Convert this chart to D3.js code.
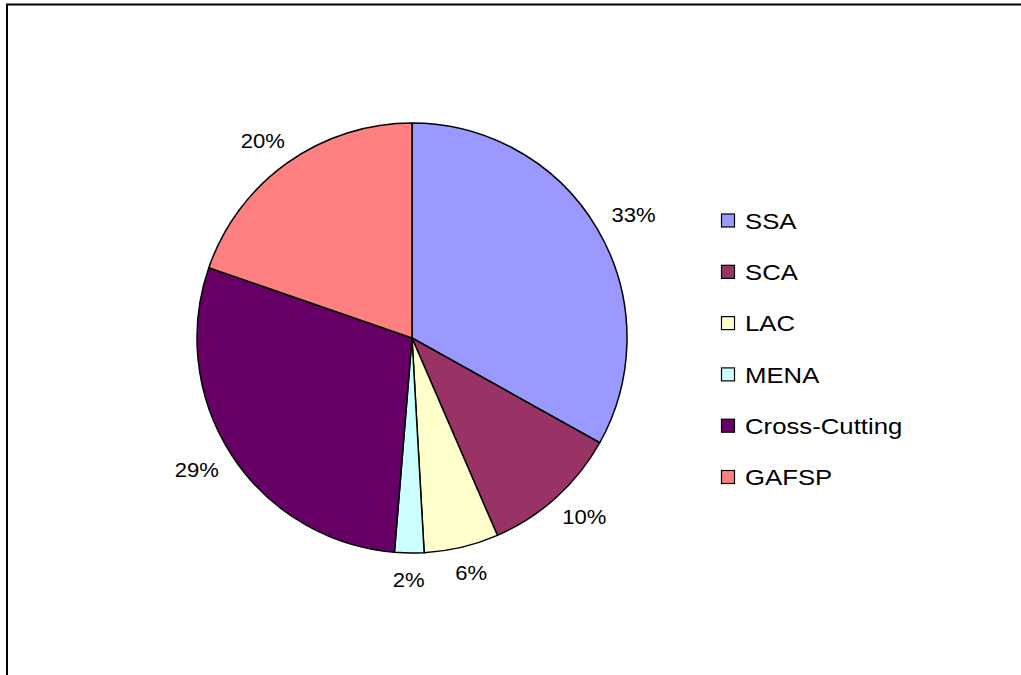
<!DOCTYPE html>
<html>
<head>
<meta charset="utf-8">
<script src="https://cdn.jsdelivr.net/npm/d3@7"></script>
<style>
  body { margin: 0; background: #fff; }
  text { font-family: "Liberation Sans", Arial, sans-serif; fill: #000; }
</style>
</head>
<body>
<div id="chart"></div>
<script>
// chart data
var categories = ["SSA", "SCA", "LAC", "MENA", "Cross-Cutting", "GAFSP"];
var shares = [33.1, 10.4, 5.6, 2.2, 29.0, 19.7];
var sliceColors = ["#9999FF", "#993366", "#FFFFCC", "#CCFFFF", "#660066", "#FF8080"];

var svgWidth = 1021;
var svgHeight = 675;

var svg = d3.select("#chart")
  .append("svg")
  .attr("width", svgWidth)
  .attr("height", svgHeight);

// chart area border (runs off right and bottom)
svg.append("rect")
  .attr("x", 7)
  .attr("y", 4.5)
  .attr("width", 1200)
  .attr("height", 1000)
  .attr("fill", "none")
  .attr("stroke", "#000")
  .attr("stroke-width", 2);

var data = categories.map(function(c, i) {
  return { name: c, value: shares[i], color: sliceColors[i] };
});

var cx = 412, cy = 338, radius = 215;

var pie = d3.pie()
  .sort(null)
  .value(d => d.value);

var arc = d3.arc()
  .innerRadius(0)
  .outerRadius(radius);

var pieGroup = svg.append("g")
  .attr("transform", `translate(${cx}, ${cy})`);

var arcs = pie(data);

pieGroup.selectAll("path")
  .data(arcs)
  .enter()
  .append("path")
  .attr("d", arc)
  .attr("fill", d => d.data.color)
  .attr("stroke", "#000")
  .attr("stroke-width", 1.5)
  .attr("stroke-linejoin", "round");

// percentage labels: box pushed out so its inner edge sits just off the rim
var labelR = radius + 19, boxW = 46, boxH = 16;
function labelPos(d) {
  var a = (d.startAngle + d.endAngle) / 2;
  var s = Math.sin(a), c = Math.cos(a);
  return [s * labelR + s * boxW / 2, -c * labelR - c * boxH / 2];
}

pieGroup.selectAll(".pctLabel")
  .data(arcs)
  .enter()
  .append("text")
  .classed("pctLabel", true)
  .attr("transform", d => `translate(${labelPos(d)[0]}, ${labelPos(d)[1]}) scale(1.05, 1)`)
  .attr("text-anchor", "middle")
  .attr("dominant-baseline", "central")
  .style("font-size", "21px")
  .text(d => Math.round(d.data.value) + "%");

// legend
var legendX = 721, legendY = 221, legendStep = 51.3;

var legend = svg.append("g");

var rows = legend.selectAll("g")
  .data(data)
  .enter()
  .append("g")
  .attr("transform", (d, i) => `translate(${legendX}, ${legendY + i * legendStep})`);

rows.append("rect")
  .attr("x", 0.5)
  .attr("y", -7)
  .attr("width", 13)
  .attr("height", 13)
  .attr("fill", d => d.color)
  .attr("stroke", "#000")
  .attr("stroke-width", 1.2);

rows.append("text")
  .attr("transform", "translate(24, 0) scale(1.17, 1)")
  .attr("dominant-baseline", "central")
  .style("font-size", "22px")
  .text(d => d.name);
</script>
</body>
</html>
